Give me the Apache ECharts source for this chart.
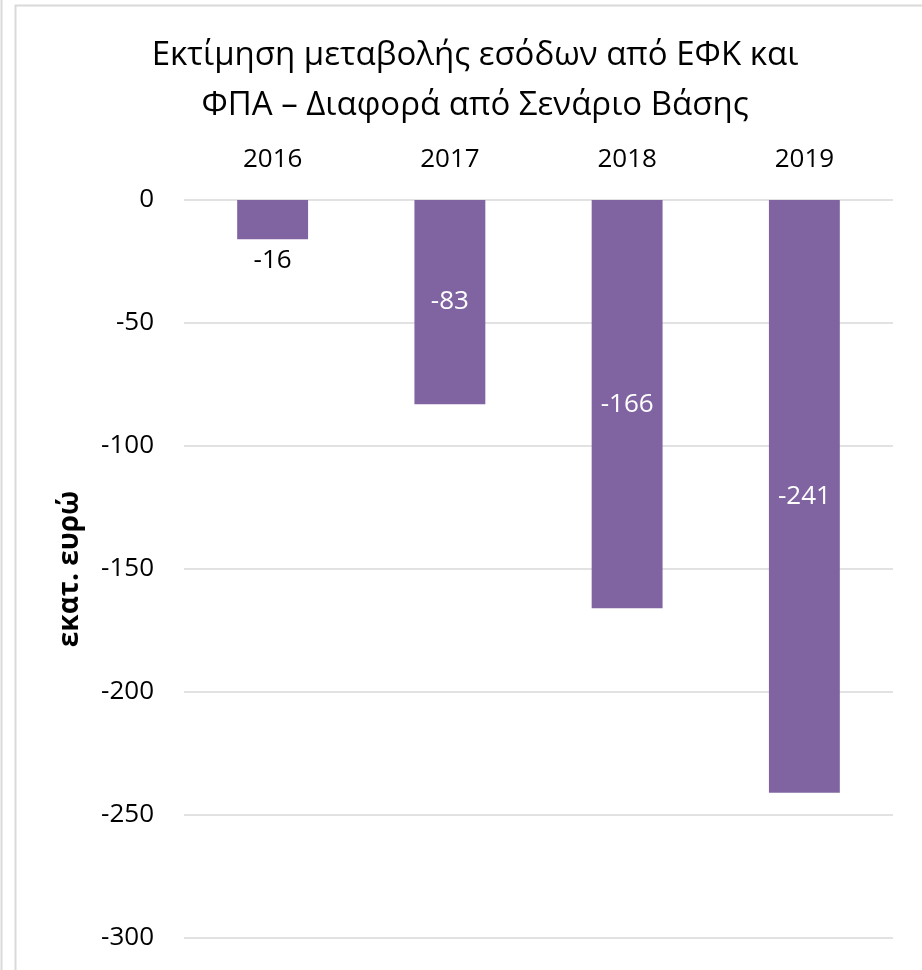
<!DOCTYPE html>
<html><head><meta charset="utf-8">
<script src="https://cdn.jsdelivr.net/npm/echarts@6/dist/echarts.min.js"></script>
<style>html,body{margin:0;padding:0;background:#fff}#c{width:922px;height:970px}</style>
</head><body><div id="c"></div>
<script>
const categories = ['2016', '2017', '2018', '2019'];
const values = [-16, -83, -166, -241];
const titleLines = ['Εκτίμηση μεταβολής εσόδων από ΕΦΚ και', 'ΦΠΑ – Διαφορά από Σενάριο Βάσης'];
const yAxisName = 'εκατ. ευρώ';
const FONT = '"Open Sans", sans-serif';
const chart = echarts.init(document.getElementById('c'));
chart.setOption({
  animation: false,
  backgroundColor: '#fff',
  title: {
    text: titleLines.join('\n'),
    left: 470, top: 26, textAlign: 'center',
    textStyle: {fontFamily: FONT, fontSize: 33, fontWeight: 'normal', color: '#000', lineHeight: 50}
  },
  graphic: [
    {type: 'line', shape: {x1: 1.5, y1: 0, x2: 1.5, y2: 970}, style: {stroke: '#d9d9d9', lineWidth: 2}},
    {type: 'polyline', shape: {points: [[15.5, 970], [15.5, 5.5], [922, 5.5]]}, style: {stroke: '#d9d9d9', lineWidth: 2, fill: null}}
  ],
  grid: {left: 184, right: 29, top: 200, bottom: 32},
  xAxis: {
    type: 'category', data: categories, position: 'top',
    axisLine: {show: false}, axisTick: {show: false},
    axisLabel: {fontFamily: FONT, fontSize: 26, color: '#000', margin: 27}
  },
  yAxis: {
    type: 'value', min: -300, max: 0, interval: 50,
    name: yAxisName, nameLocation: 'middle', nameGap: 100, nameRotate: 90,
    nameTextStyle: {fontFamily: FONT, fontSize: 28, fontWeight: 'bold', color: '#000'},
    axisLine: {show: false}, axisTick: {show: false},
    axisLabel: {fontFamily: FONT, fontSize: 26, color: '#000', margin: 30},
    splitLine: {lineStyle: {color: '#d9d9d9', width: 1.5}}
  },
  series: [{
    type: 'bar', barWidth: '40%',
    itemStyle: {color: '#8064A2'},
    data: values.map((v, i) => ({
      value: v,
      label: i === 0
        ? {show: true, position: 'bottom', distance: 8, color: '#000'}
        : {show: true, position: 'inside', color: '#fff'}
    })),
    label: {fontFamily: FONT, fontSize: 26}
  }]
});
</script></body></html>
